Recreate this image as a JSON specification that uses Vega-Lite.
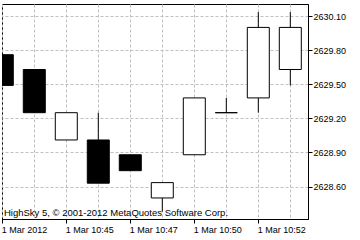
{
  "$schema": "https://vega.github.io/schema/vega-lite/v6.json",
  "autosize": "none",
  "width": 306,
  "height": 215,
  "padding": {"left": 2, "top": 4, "right": 52, "bottom": 21},
  "background": "white",
  "config": {
    "view": {"stroke": "black", "strokeWidth": 1},
    "font": "Liberation Sans",
    "axis": {
      "labelFont": "Liberation Sans",
      "labelFontSize": 9,
      "labelColor": "black",
      "tickColor": "black",
      "domainColor": "black",
      "gridColor": "#c0c0c0",
      "gridDash": [3, 2],
      "gridWidth": 1,
      "title": null
    }
  },
  "data": {
    "values": [
      {"i": 0, "t": "1 Mar 2012", "open": 2629.76, "high": 2629.76, "low": 2629.49, "close": 2629.49},
      {"i": 1, "t": "1 Mar 10:44", "open": 2629.63, "high": 2629.63, "low": 2629.25, "close": 2629.25},
      {"i": 2, "t": "1 Mar 10:45", "open": 2629.01, "high": 2629.25, "low": 2629.01, "close": 2629.25},
      {"i": 3, "t": "1 Mar 10:46", "open": 2629.01, "high": 2629.25, "low": 2628.63, "close": 2628.63},
      {"i": 4, "t": "1 Mar 10:47", "open": 2628.88, "high": 2628.88, "low": 2628.74, "close": 2628.74},
      {"i": 5, "t": "1 Mar 10:48", "open": 2628.50, "high": 2628.635, "low": 2628.38, "close": 2628.635},
      {"i": 6, "t": "1 Mar 10:50", "open": 2628.88, "high": 2629.38, "low": 2628.88, "close": 2629.38},
      {"i": 7, "t": "1 Mar 10:51", "open": 2629.25, "high": 2629.38, "low": 2629.25, "close": 2629.25},
      {"i": 8, "t": "1 Mar 10:52", "open": 2629.38, "high": 2630.135, "low": 2629.25, "close": 2630.0},
      {"i": 9, "t": "1 Mar 10:53", "open": 2629.63, "high": 2630.135, "low": 2629.49, "close": 2630.0}
    ]
  },
  "encoding": {
    "x": {
      "field": "i",
      "type": "quantitative",
      "scale": {"domain": [-0.009, 9.553], "nice": false, "zero": false, "padding": 0},
      "axis": {
        "values": [0, 1, 2, 3, 4, 5, 6, 7, 8, 9],
        "labelExpr": "datum.value == 0 ? '1 Mar 2012' : datum.value == 2 ? '1 Mar 10:45' : datum.value == 4 ? '1 Mar 10:47' : datum.value == 6 ? '1 Mar 10:50' : datum.value == 8 ? '1 Mar 10:52' : ''",
        "labelAlign": "left",
        "labelBaseline": "top",
        "labelPadding": 2,
        "labelOffset": -1,
        "labelOverlap": false,
        "labelFlush": false,
        "tickSize": 4,
        "tickOpacity": {"condition": {"test": "datum.value % 2 == 0", "value": 1}, "value": 0},
        "grid": true,
        "domain": true
      }
    },
    "y": {
      "type": "quantitative",
      "scale": {"domain": [2628.315, 2630.206], "nice": false, "zero": false, "padding": 0},
      "axis": {
        "orient": "right",
        "values": [2628.6, 2628.9, 2629.2, 2629.5, 2629.8, 2630.1],
        "format": ".2f",
        "tickSize": 4,
        "labelPadding": 1,
        "labelAlign": "left",
        "labelBaseline": "middle",
        "grid": true
      }
    }
  },
  "layer": [
    {
      "mark": {"type": "rule", "color": "black", "strokeWidth": 1, "clip": true},
      "encoding": {
        "y": {"field": "low", "type": "quantitative"},
        "y2": {"field": "high"}
      }
    },
    {
      "mark": {"type": "bar", "size": 22, "stroke": "black", "strokeWidth": 1, "clip": true, "cornerRadius": 0},
      "encoding": {
        "y": {"field": "open", "type": "quantitative"},
        "y2": {"field": "close"},
        "fill": {
          "condition": {"test": "datum.close < datum.open", "value": "black"},
          "value": "white"
        }
      }
    },
    {
      "data": {"values": [{"note": "HighSky 5, © 2001-2012 MetaQuotes Software Corp.", "px": -0.009, "py": 2628.345}]},
      "mark": {"type": "text", "align": "left", "baseline": "alphabetic", "dx": 2, "fontSize": 9.5, "font": "Liberation Sans", "color": "black"},
      "encoding": {
        "x": {"field": "px", "type": "quantitative"},
        "y": {"field": "py", "type": "quantitative"},
        "text": {"field": "note"}
      }
    }
  ]
}
